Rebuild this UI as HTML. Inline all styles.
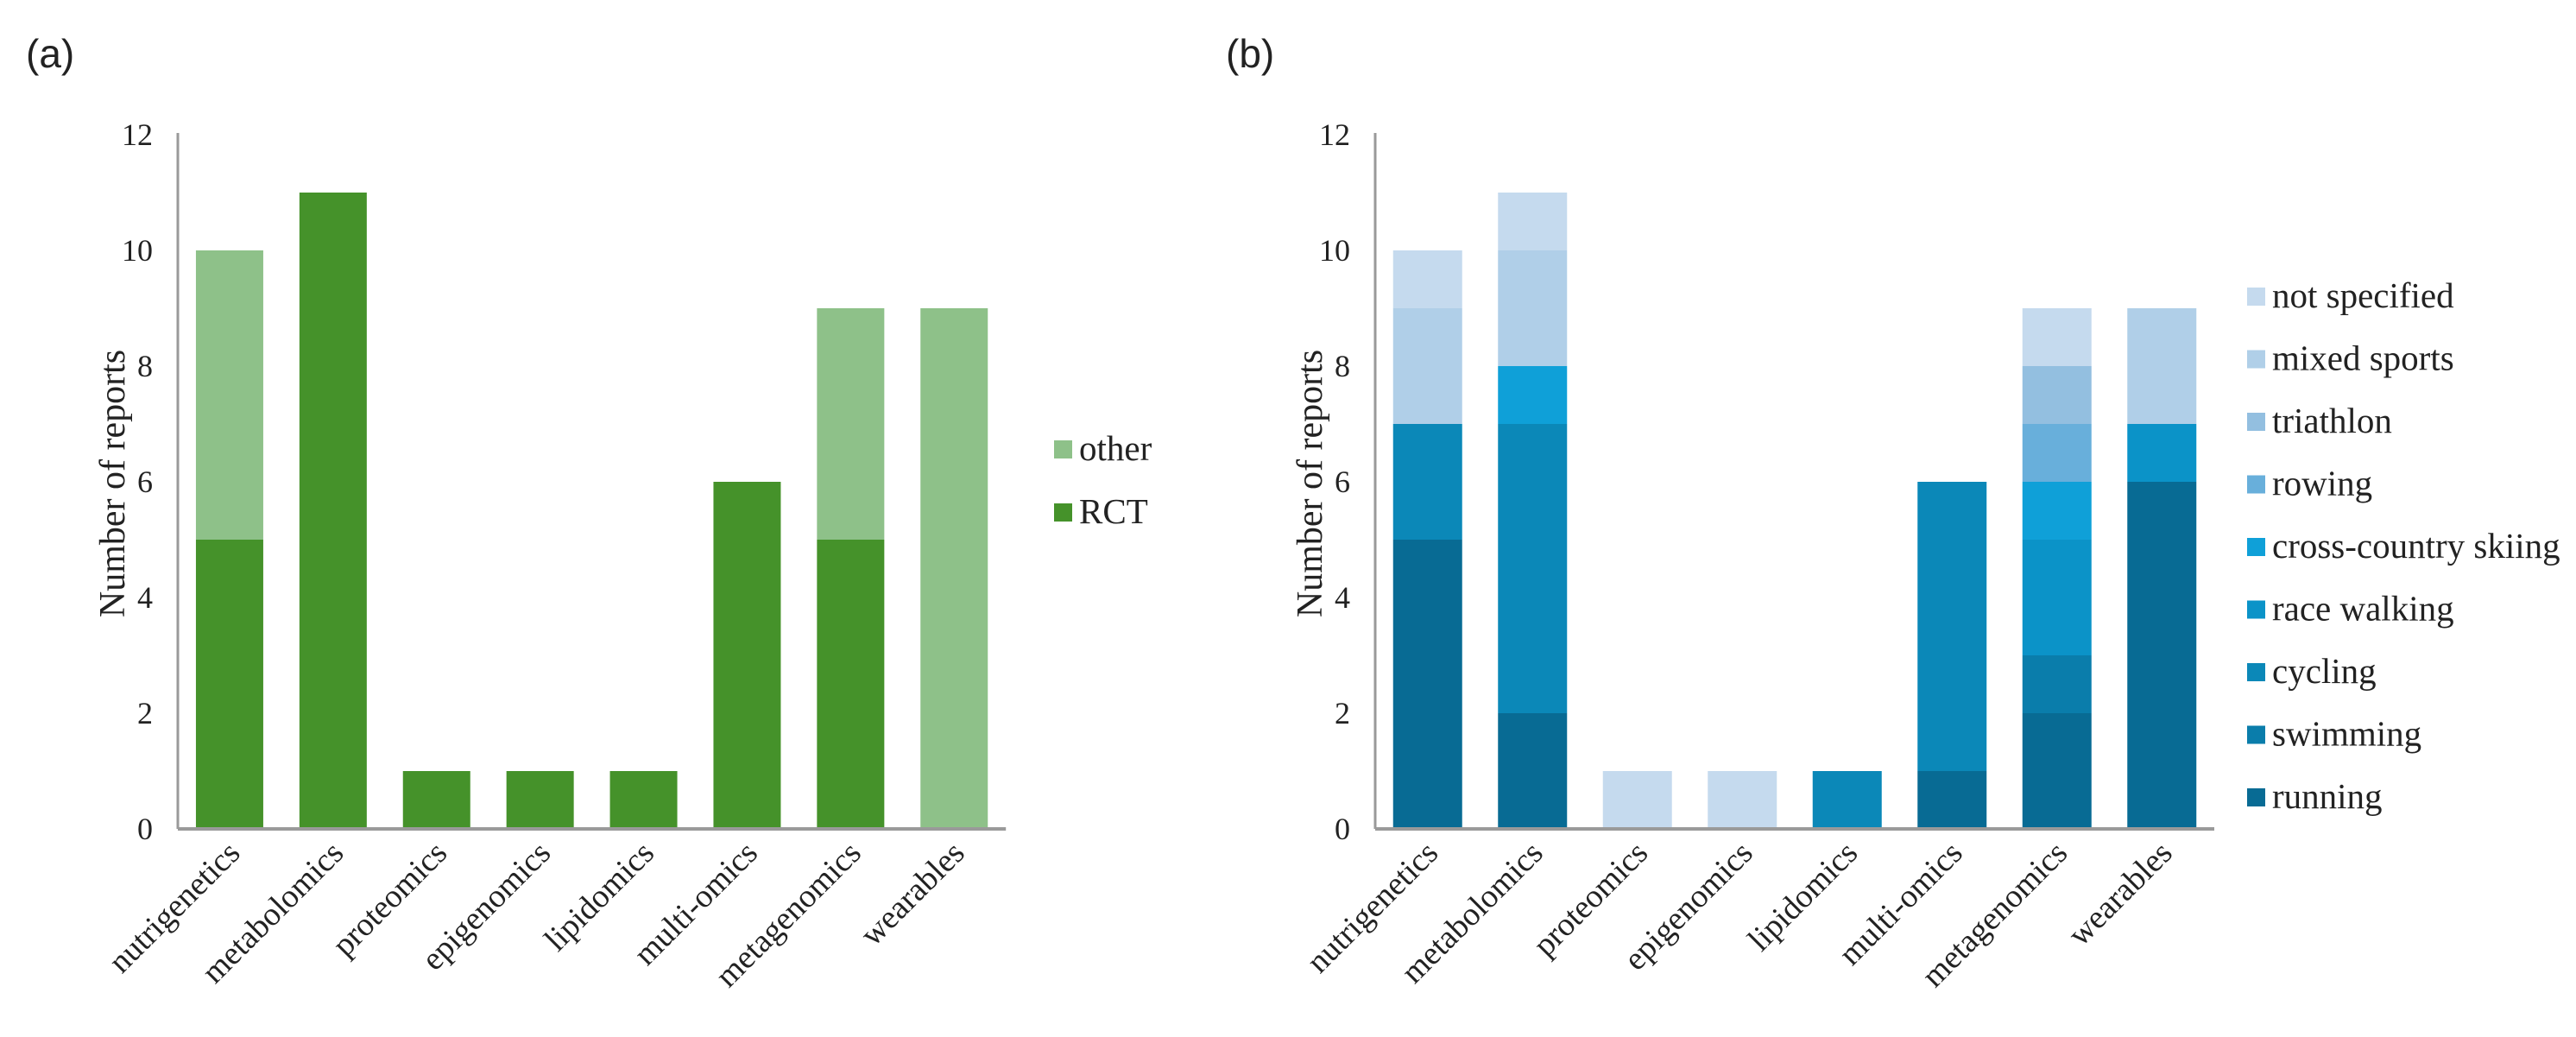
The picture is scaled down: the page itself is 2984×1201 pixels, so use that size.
<!DOCTYPE html>
<html><head><meta charset="utf-8"><style>
html,body{margin:0;padding:0;background:#fff;}
svg{display:block;}
text{font-family:"Liberation Serif",serif;fill:#222;}
</style></head><body>
<svg id="fig" width="2984" height="1201" viewBox="0 0 2984 1201" xmlns="http://www.w3.org/2000/svg">
<text x="30" y="78" style="font-family:'Liberation Sans',sans-serif;font-size:46px">(a)</text>
<text x="1420" y="78" style="font-family:'Liberation Sans',sans-serif;font-size:46px">(b)</text>
<g id="chartA"></g>
<g id="chartB"></g>
</svg>
<script>
const categories = ["nutrigenetics","metabolomics","proteomics","epigenomics","lipidomics","multi-omics","metagenomics","wearables"];
const yTicks = [0,2,4,6,8,10,12];
// Chart A series
const seriesA = ["RCT","other"];
const rctValues = [5,11,1,1,1,6,5,0];
const otherValues = [5,0,0,0,0,0,4,9];
const colorsA = ["#45922a","#8ec189"];
// Chart B series (bottom to top)
const seriesB = ["running","swimming","cycling","race walking","cross-country skiing","rowing","triathlon","mixed sports","not specified"];
const running      = [5,2,0,0,0,1,2,6];
const swimming     = [0,0,0,0,0,0,1,0];
const cycling      = [2,5,0,0,1,5,0,0];
const raceWalking  = [0,0,0,0,0,0,2,1];
const xcSkiing     = [0,1,0,0,0,0,1,0];
const rowing       = [0,0,0,0,0,0,1,0];
const triathlon    = [0,0,0,0,0,0,1,0];
const mixedSports  = [2,2,0,0,0,0,0,2];
const notSpecified = [1,1,1,1,0,0,1,0];
const colorsB = ["#086b94","#0a7dab","#0b88b8","#0b93c8","#0fa0d8","#68afdb","#93bfe0","#b0cfe8","#c5daee"];

const NS = "http://www.w3.org/2000/svg";
function mk(tag, attrs, parent){
  const e = document.createElementNS(NS, tag);
  for (const k in attrs) e.setAttribute(k, attrs[k]);
  parent.appendChild(e);
  return e;
}

function drawChart(g, opts, seriesNames, seriesData, colors, legendTop, legendStep, legendOrder){
  const y0 = 960, unit = 67;
  const band = opts.band, axisX = opts.axisX, barW = opts.barW;
  const yScale = v => y0 - v*unit;
  const xCenter = i => axisX + band*(i+0.5);
  const ya = mk("line",{x1:axisX,y1:yScale(12)-2,x2:axisX,y2:y0,stroke:"#9a9a9a","stroke-width":3},g);
  
  
  yTicks.forEach(t=>{
    const tx = mk("text",{x:axisX-29,y:yScale(t)+12,"text-anchor":"end","font-size":"36"},g);
    
    
    tx.textContent = t;
  });
  const title = mk("text",{x:0,y:0,"text-anchor":"middle","font-size":"42",transform:`translate(${axisX-62},${yScale(6)+2}) rotate(-90)`},g);
  
  
  title.textContent = "Number of reports";
  categories.forEach((c,i)=>{
    let base = 0;
    seriesData.forEach((arr,s)=>{
      const v = arr[i];
      if (v>0){
        const r = mk("rect",{x:xCenter(i)-barW/2,y:yScale(base+v),width:barW,height:v*unit,fill:colors[s]},g);
        
        
      }
      base += v;
    });
    const lbl = mk("text",{x:0,y:0,"text-anchor":"end","font-size":"38",transform:`translate(${xCenter(i)+14},${y0+30}) rotate(-45)`},g);
    
    
    lbl.textContent = c;
  });
  const xa = mk("line",{x1:axisX,y1:y0,x2:axisX+band*8,y2:y0,stroke:"#9a9a9a","stroke-width":4},g);
  
  
  legendOrder.forEach((s,k)=>{
    const ly = legendTop + k*legendStep;
    const sq = mk("rect",{x:opts.legX,y:ly-10,width:21,height:21,fill:colors[s]},g);
    
    
    const lt = mk("text",{x:opts.legX+29,y:ly+13,"font-size":"41"},g);
    
    
    lt.textContent = seriesNames[s];
  });
}

drawChart(document.getElementById("chartA"), {band:119.9, axisX:206, barW:78, legX:1221},
  seriesA, [rctValues, otherValues], colorsA, 520, 73, [1,0]);
drawChart(document.getElementById("chartB"), {band:121.5, axisX:1593, barW:80, legX:2603},
  seriesB, [running,swimming,cycling,raceWalking,xcSkiing,rowing,triathlon,mixedSports,notSpecified], colorsB, 343, 72.5, [8,7,6,5,4,3,2,1,0]);
</script>
</body></html>
